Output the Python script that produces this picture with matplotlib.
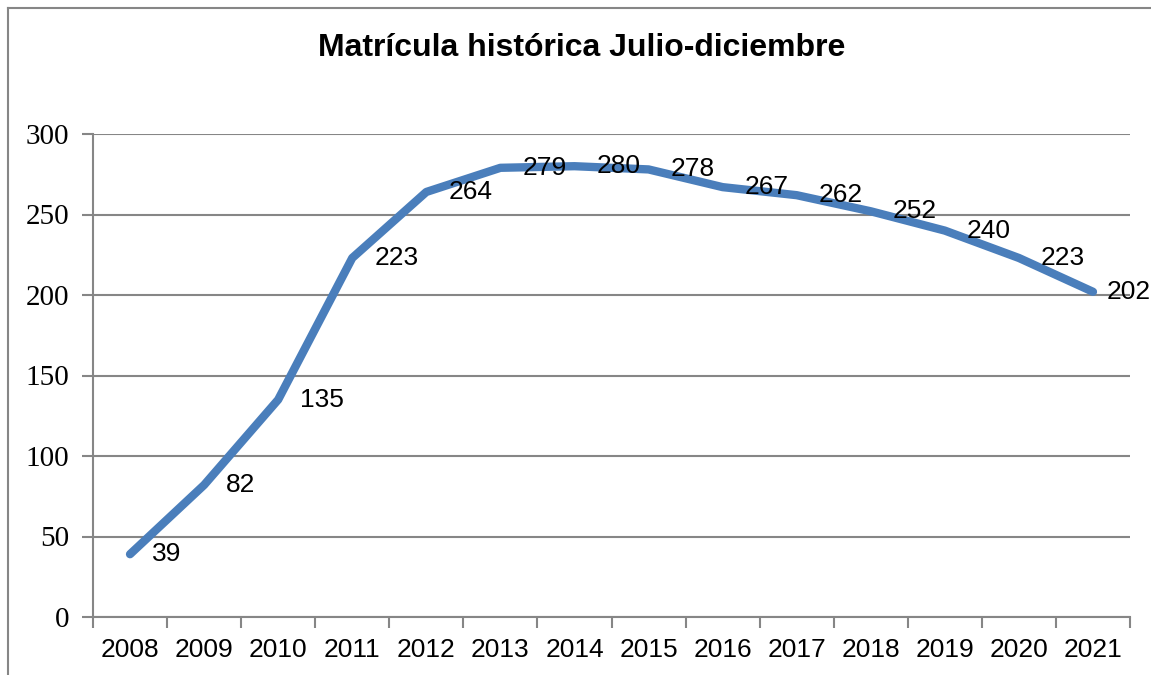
import numpy as np
import matplotlib.pyplot as plt
from matplotlib.lines import Line2D

years = ['2008', '2009', '2010', '2011', '2012', '2013', '2014',
         '2015', '2016', '2017', '2018', '2019', '2020', '2021']
matricula = [39, 82, 135, 223, 264, 279, 280, 278, 267, 262, 252, 240, 223, 202]

grid_color = '#868686'
line_color = '#4a7ebb'

fig = plt.figure(figsize=(11.51, 6.75), dpi=100)
ax = fig.add_axes([93 / 1151, 1 - 617 / 675, (1130 - 93) / 1151, (617 - 134) / 675])

x = np.arange(len(years))
ax.plot(x, matricula, color=line_color, lw=6, solid_capstyle='round', solid_joinstyle='round')
for i, (xi, v) in enumerate(zip(x, matricula)):
    # Excel pulls the last label in so it stays inside the chart
    dx = 16 if i < len(x) - 1 else 10
    ax.annotate(str(v), (xi, v), xytext=(dx, 0), textcoords='offset points',
                ha='left', va='center', fontsize=19, family='Liberation Sans')

ax.set_xlim(-0.5, len(years) - 0.5)
ax.set_ylim(0, 300)
ax.set_yticks(range(0, 301, 50))
ax.set_yticklabels([str(v) for v in range(0, 301, 50)], family='Liberation Serif', fontsize=21)
ax.set_xticks(x)
ax.set_xticklabels(years, family='Liberation Sans', fontsize=19)
ax.set_xticks(np.arange(-0.5, len(years)), minor=True)
ax.tick_params(axis='x', which='major', length=0, pad=15)
ax.tick_params(axis='x', which='minor', length=8, width=1.5, color=grid_color)
ax.tick_params(axis='y', length=8, width=1.5, color=grid_color, pad=9)
ax.yaxis.grid(True, color=grid_color, lw=1.5)
ax.set_axisbelow(True)
for side in ['top', 'right']:
    ax.spines[side].set_visible(False)
for side in ['left', 'bottom']:
    ax.spines[side].set_color(grid_color)
    ax.spines[side].set_linewidth(1.5)

fig.text(582 / 1151, 1 - 48 / 675, 'Matrícula histórica Julio-diciembre', ha='center', va='center',
         fontsize=23, fontweight='bold', family='Liberation Sans')

# outer frame (only left and top visible in the crop)
fig.add_artist(Line2D([8 / 1151, 8 / 1151], [0, 1 - 8 / 675], color=grid_color, lw=1.5,
                      transform=fig.transFigure))
fig.add_artist(Line2D([8 / 1151, 1], [1 - 8 / 675, 1 - 8 / 675], color=grid_color, lw=1.5,
                      transform=fig.transFigure))

fig.savefig('out.png', dpi=100)
